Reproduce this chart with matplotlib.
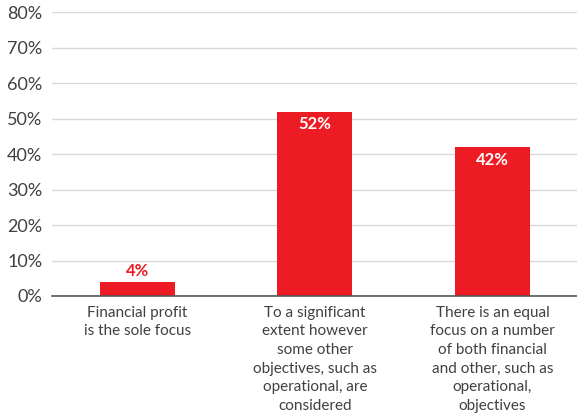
import matplotlib.pyplot as plt
import numpy as np

plt.rcParams['font.family'] = ['Lato', 'DejaVu Sans']

categories = [
    "Financial profit\nis the sole focus",
    "To a significant\nextent however\nsome other\nobjectives, such as\noperational, are\nconsidered",
    "There is an equal\nfocus on a number\nof both financial\nand other, such as\noperational,\nobjectives",
]
values = [4, 52, 42]
y_ticks = [0, 10, 20, 30, 40, 50, 60, 70, 80]

RED = "#ed1c24"
TEXT = "#404040"

fig = plt.figure(figsize=(5.77, 4.19), dpi=100)
ax = fig.add_axes([0.090, 0.2936, 0.910, 0.677])

x = np.arange(len(values))
bars = ax.bar(x, values, width=0.4225, color=RED, zorder=3)

# value labels: inside tall bars, above short ones
for rect, v in zip(bars, values):
    cx = rect.get_x() + rect.get_width() / 2
    if v < 10:
        ax.text(cx, v + 0.8, f"{v}%", ha="center", va="bottom",
                color=RED, fontsize=12, fontweight="bold")
    else:
        ax.text(cx, v - 1.3, f"{v}%", ha="center", va="top",
                color="white", fontsize=12, fontweight="bold", zorder=4)

ax.set_xlim(-0.4817, 2.476)
ax.set_ylim(0, 80)
ax.set_yticks(y_ticks)
ax.set_yticklabels([f"{t}%" for t in y_ticks], fontsize=13, color=TEXT)
ax.set_xticks(x)
ax.set_xticklabels(categories, fontsize=11, color=TEXT, linespacing=1.42)
ax.tick_params(axis="both", length=0)
ax.tick_params(axis="y", pad=7)
ax.tick_params(axis="x", pad=7)

ax.grid(axis="y", color="#d9d9d9", linewidth=1, zorder=0)
for s in ["top", "right", "left"]:
    ax.spines[s].set_visible(False)
ax.spines["bottom"].set_color("#555555")
ax.spines["bottom"].set_linewidth(1.2)
ax.spines["bottom"].set_zorder(5)

fig.savefig("out.png", dpi=100)
